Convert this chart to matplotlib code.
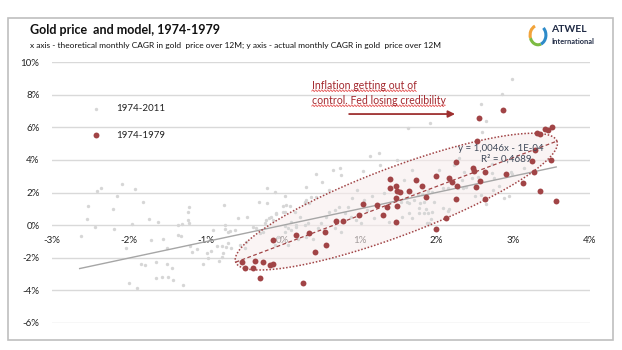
import numpy as np
import matplotlib
matplotlib.use('Agg')
import matplotlib.pyplot as plt
from matplotlib.patches import Polygon, Rectangle, Arc
from matplotlib.ticker import FuncFormatter

plt.rcParams['font.family'] = ['Lato', 'DejaVu Sans']

# 1974-2011 (gray) - theoretical vs actual monthly CAGR, %
gray_x = [-2.41, -2.36, -2.09, -1.92, -2.16, -2.53, -2.21, -1.81, -2.54, -2.44,
          -2.19, -1.96, -1.74, -1.62, -2.62, -1.71, -1.55, -1.36, -1.32, -1.36,
          -1.31, -1.22, -1.23, -1.23, -1.22, -2.04, -1.84, -1.79, -1.65, -1.51,
          -1.51, -1.44, -2.00, -1.89, -1.65, -1.57, -1.49, -1.42, -1.30, -1.20,
          -1.18, -1.11, -1.04, -0.97, -0.93, -0.98, -0.91, -0.83, -0.79, -0.78,
          -0.85, -0.79, -0.75, -0.75, -0.76, -0.74, -0.71, -0.71, -0.31, -0.20,
          -0.20, -0.10, 0.03, 0.00, 0.05, 0.10, 0.29, 0.31, 0.30, 0.37,
          0.44, 0.43, -0.46, -0.56, -0.49, -0.39, -0.34, -0.21, -0.15, -0.30,
          -0.26, -0.08, 0.03, 0.07, 0.11, 0.18, -0.58, -0.62, -0.69, -0.48,
          -0.67, -0.09, -0.18, -0.13, -0.23, 0.00, 0.03, 0.29, 0.35, 0.76,
          0.75, 0.65, 1.04, 1.14, 1.26, 1.27, 2.98, 2.85, 2.58, 2.65,
          2.59, 1.92, 1.63, 2.73, 2.97, 2.99, 2.73, 2.75, 2.81, 2.74,
          2.58, 2.51, 2.65, 2.88, 2.94, 2.28, 2.35, 2.39, 2.09, 2.15,
          1.89, 1.94, 1.76, 1.81, 1.71, 1.79, 1.84, 1.77, 1.87, 1.78,
          1.84, 1.89, 1.95, 2.09, 2.15, 2.17, 1.97, 1.65, 1.55, 1.69,
          1.93, 1.88, 1.91, 1.62, 1.65, 1.54, 2.47, 2.54, 2.34,
          0.16, 0.23, 0.29, 0.33, 0.18, 0.11, 0.03, -0.06, -0.10, 0.07,
          0.20, 0.31, 0.39, 0.46, 0.50, 0.57, 0.61, 0.68, 0.74, 0.85,
          0.81, 0.89, 0.96, 1.02, 0.68, 0.76, 1.06, 1.16, 1.32, 1.10,
          1.19, 1.39, 0.90, 0.97, 0.61, 0.51, 1.58, 1.68, 2.04, 2.23,
          2.36, 2.30, 1.49, 3.14]
gray_y = [2.12, 2.30, 2.50, 2.19, 1.76, 1.15, 0.98, 1.43, 0.40, -0.09,
          -0.26, 0.05, 0.35, 0.17, -0.64, -0.93, -0.86, -0.60, -0.64, 0.00,
          0.04, 1.10, 0.82, 0.33, 0.10, -1.39, -2.40, -2.47, -2.23, -1.39,
          -2.41, -2.62, -3.52, -3.88, -3.23, -3.18, -3.21, -3.37, -3.64, -1.28,
          -1.64, -1.49, -2.41, -1.99, -1.58, -1.70, -0.29, -2.17, -1.98, -1.70,
          -1.30, -1.25, 0.00, -0.26, 1.21, -1.33, -0.41, -1.09, 1.44, 2.25,
          1.38, 2.04, 1.78, 1.17, 1.23, 1.18, 1.43, 1.53, 2.35, 1.74,
          1.74, 3.13, 0.47, -1.23, -1.43, -0.10, -0.20, 0.31, 0.51, -0.51,
          -0.41, 0.72, -0.41, -0.20, -0.31, -0.10, 0.41, -0.31, -0.35, -1.02,
          -1.43, 0.66, 0.45, 0.31, 0.10, 0.82, 0.82, 1.33, 1.33, 3.07,
          3.48, 3.40, 3.31, 4.23, 4.45, 3.68, 8.93, 8.06, 7.42, 6.39,
          5.72, 6.26, 5.93, 3.77, 3.27, 3.12, 3.17, 2.87, 2.39, 2.15,
          1.84, 1.78, 1.27, 1.64, 1.78, 2.25, 2.25, 2.35, 2.25, 2.25,
          2.10, 2.04, 1.84, 1.88, 1.53, 1.33, 1.43, 1.02, 0.96, 0.72,
          0.75, 0.72, 0.82, 1.02, 0.88, 0.96, 1.43, 0.72, 0.51, 0.41,
          0.35, 0.10, 0.10, 1.43, 1.33, 1.43, 2.86, 2.96, 2.76,
          0.82, 0.51, 0.00, 0.10, 0.00, 0.20, -0.06, -0.72, -1.23, -1.23,
          -0.82, -0.72, -0.82, -0.20, 0.10, 0.51, 0.82, 0.92, 1.12, 1.12,
          0.72, 0.51, 0.31, 0.10, -0.20, -0.41, 1.53, 1.78, 1.96, 0.92,
          0.43, 0.18, 1.66, 2.15, 2.15, 2.64, 2.76, 3.37, 3.37, 3.68,
          3.25, 4.11, 3.99, 3.50]

# 1974-1979 (red)
red_x = [-0.53, -0.49, -0.39, -0.36, -0.25, -0.17, -0.12, -0.29, -0.13, 0.18,
         0.35, 0.55, 0.42, 0.56, 0.26, 0.70, 0.78, 1.00, 1.04, 1.23,
         1.31, 1.36, 1.47, 1.49, 1.47, 1.40, 1.49, 1.53, 1.64, 1.47,
         1.40, 1.74, 1.82, 1.87, 1.99, 2.16, 2.21, 2.27, 2.26, 1.99,
         2.13, 2.48, 2.49, 2.63, 2.57, 2.52, 2.64, 2.91, 3.13, 3.27,
         3.35, 3.56, 2.26, 2.53, 2.56, 2.87, 3.31, 3.35, 3.42, 3.45,
         3.51, 3.29, 3.49, 3.25]
red_y = [-2.25, -2.62, -2.64, -2.19, -2.25, -2.45, -2.39, -3.25, -0.92, -0.61,
         -0.47, -0.40, -1.66, -1.23, -3.56, 0.25, 0.25, 0.61, 1.29, 1.21,
         0.61, 1.12, 0.18, 1.17, 1.66, 2.25, 2.09, 2.04, 2.10, 2.39,
         2.82, 2.76, 2.39, 1.74, 3.01, 2.90, 2.62, 2.39, 1.60, -0.25,
         0.43, 3.48, 3.31, 3.25, 2.70, 2.35, 1.60, 3.13, 2.60, 3.27,
         2.09, 1.47, 3.88, 5.15, 6.58, 7.06, 5.63, 5.56, 5.89, 5.83,
         6.03, 4.60, 3.99, 3.94]

# linear trendline of the gray series (as printed on the chart)
trend_slope = 1.0046
trend_icpt = -1e-4 * 100
trend_x = [-2.64, 3.56]

# hand-drawn ellipse around 1974-1979 (end points of the long axis, %)
ell_ends_x = [-0.61, 3.57]
ell_ends_y = [-2.27, 5.15]

xticks = [-3, -2, -1, 0, 1, 2, 3, 4]
yticks = [-6, -4, -2, 0, 2, 4, 6, 8, 10]

RED = '#A14446'
GRAY = '#D6D6D6'

fig = plt.figure(figsize=(6.22, 3.5), dpi=100)
fig.patches.append(Rectangle((8/622, 10/350), 605/622, 322/350, transform=fig.transFigure,
                             fill=False, edgecolor='#BFBFBF', linewidth=1.2))

ax = fig.add_axes([52/622, 27/350, 538/622, 261/350])
ax.set_xlim(-3, 4)
ax.set_ylim(-6, 10)
ax.set_xticks(xticks)
ax.set_yticks(yticks)
ax.xaxis.set_major_formatter(FuncFormatter(lambda v, _: '{:.0f}%'.format(v)))
ax.yaxis.set_major_formatter(FuncFormatter(lambda v, _: '{:.0f}%'.format(v)))
for s in ['top', 'right', 'left']:
    ax.spines[s].set_visible(False)
ax.spines['bottom'].set_position(('data', 0))
ax.spines['bottom'].set_visible(False)
ax.tick_params(axis='x', length=0, pad=8, labelsize=7, labelcolor='#222222')
ax.tick_params(axis='y', length=0, pad=9, labelsize=7, labelcolor='#222222')
ax.yaxis.grid(True, color='#D9D9D9', linewidth=1)
ax.set_axisbelow(True)

# ellipse, built in pixel space then mapped back to data
p = ax.transData.transform(np.column_stack([ell_ends_x, ell_ends_y]))
c = p.mean(axis=0)
d = p[1] - p[0]
a = np.hypot(*d) / 2
u = d / np.hypot(*d)
v = np.array([-u[1], u[0]])
b = 34
t = np.linspace(0, 2*np.pi, 200)
pts = c + np.outer(a*np.cos(t), u) + np.outer(b*np.sin(t), v)
pts = ax.transData.inverted().transform(pts)
ax.add_patch(Polygon(pts, closed=True, facecolor='#F8EDED', alpha=0.6, edgecolor='none', zorder=1))
ax.add_patch(Polygon(pts, closed=True, fill=False, edgecolor=RED, linestyle=(0, (1, 1.2)), linewidth=1.1, zorder=4))
ax.plot(ell_ends_x, ell_ends_y, color=RED, linestyle=(0, (3, 2)), linewidth=0.9, zorder=4)

ax.scatter(gray_x, gray_y, s=6, color=GRAY, linewidths=0, zorder=2)
tx = np.array(trend_x)
ax.plot(tx, trend_slope*tx + trend_icpt, color='#A6A6A6', linewidth=1, zorder=3)
ax.scatter(red_x, red_y, s=18, color=RED, linewidths=0, zorder=5)

# legend
ax.scatter([-2.43], [7.12], s=6, color=GRAY, linewidths=0)
ax.scatter([-2.43], [5.52], s=18, color=RED, linewidths=0)
ax.text(-2.16, 7.12, '1974-2011', fontsize=7, va='center', color='#222222')
ax.text(-2.16, 5.52, '1974-1979', fontsize=7, va='center', color='#222222')

# annotation (with the spell-check squiggles seen in the screenshot)
note1 = ax.text(0.38, 8.59, 'Inflation getting out of', fontsize=7.6, color='#A3282E', va='center')
note2 = ax.text(0.38, 7.67, 'control. Fed losing credibility', fontsize=7.6, color='#A3282E', va='center')
fig.canvas.draw()
for note in [note1, note2]:
    bb = note.get_window_extent()
    sx = np.arange(bb.x0, bb.x1, 0.5)
    sy = bb.y0 - 0.2 + 0.9*np.sin(sx * 2*np.pi / 3.0)
    sq = ax.transData.inverted().transform(np.column_stack([sx, sy]))
    ax.plot(sq[:, 0], sq[:, 1], color='#E03A3A', linewidth=0.5)

ax.annotate('', xy=(2.28, 6.81), xytext=(0.83, 6.81),
            arrowprops=dict(arrowstyle='-|>', color='#9E3030', lw=1.3, mutation_scale=10))

ax.text(2.84, 4.72, 'y = 1,0046x - 1E-04', fontsize=7, ha='center', va='center', color='#404A5A', zorder=6)
ax.text(2.91, 4.05, 'R² = 0,4689', fontsize=7, ha='center', va='center', color='#404A5A', zorder=6)

fig.text(30/622, 1 - 30/350, 'Gold price  and model, 1974-1979', fontsize=9, fontweight='bold',
         va='center', color='#111111')
fig.text(30/622, 1 - 45/350,
         'x axis - theoretical monthly CAGR in gold  price over 12M; y axis - actual monthly CAGR in gold  price over 12M',
         fontsize=6.05, va='center', color='#111111')

# logo
lax = fig.add_axes([528/622, 1 - 48/350, 20/622, 24/350])
lax.set_xlim(-1.2, 1.2)
lax.set_ylim(-1.3, 1.3)
lax.axis('off')
lax.add_patch(Arc((0, 0.1), 1.9, 2.1, theta1=110, theta2=200, color='#F2A33A', lw=2.2))
lax.add_patch(Arc((0, 0.1), 1.9, 2.1, theta1=200, theta2=290, color='#7DBB42', lw=2.2))
lax.add_patch(Arc((0, 0.1), 1.9, 2.1, theta1=290, theta2=410, color='#2E8BC9', lw=2.2))
fig.text(551/622, 1 - 30/350, 'ATWEL', fontsize=7.5, fontweight='bold', va='center', color='#1F2A44')
fig.text(551/622, 1 - 41/350, 'International', fontsize=5.3, fontweight='bold', va='center', color='#1F2A44')

fig.savefig('out.png', dpi=100)
